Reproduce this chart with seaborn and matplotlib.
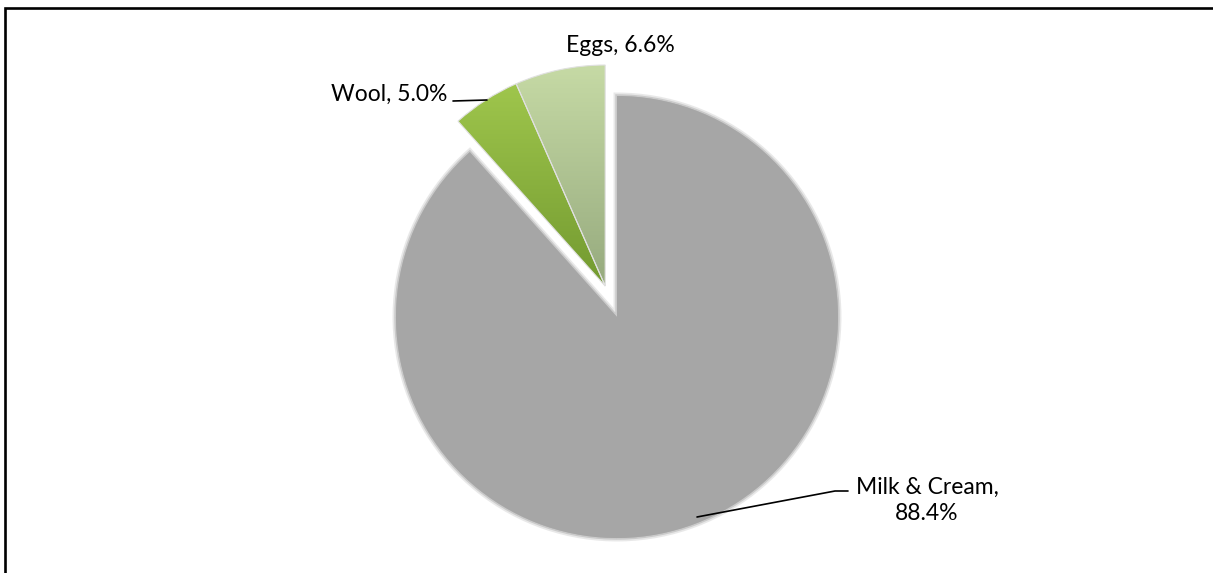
import numpy as np
import matplotlib
matplotlib.use("Agg")
import matplotlib.pyplot as plt
import matplotlib.patheffects as pe
import seaborn as sns
from matplotlib.patches import Rectangle
from matplotlib.colors import LinearSegmentedColormap

# ---- data (counter-clockwise from 12 o'clock) ----
categories = ["Eggs", "Wool", "Milk & Cream"]
shares = [6.6, 5.0, 88.4]

sns.set_theme(style="white")
plt.rcParams["font.family"] = ["Lato", "DejaVu Sans"]

W, H, DPI = 1213, 573, 100
fig = plt.figure(figsize=(W / DPI, H / DPI), dpi=DPI)
ax = fig.add_axes([0, 0, 1, 1])
ax.set_axis_off()

# layout in pixels -> data units (radius = 1)
CX, CY, R = 617, 317, 221
def to_data(px, py):
    return ((px - CX) / R, (CY - py) / R)

ax.set_aspect("equal")

wedges, _ = ax.pie(shares, startangle=90, counterclock=True,
                   colors=["#C3D69B", "#9BBB59", "#A6A6A6"],
                   wedgeprops=dict(linewidth=0), radius=1.0)

# soft edge on the big slice
wedges[2].set_path_effects([
    pe.Stroke(linewidth=5, foreground="#A6A6A6", alpha=0.25),
    pe.Stroke(linewidth=2.5, foreground="#A6A6A6", alpha=0.45),
    pe.Normal()])

# explode the two small slices together along their common mid-angle
total = sum(shares)
grp = shares[0] + shares[1]
theta = np.deg2rad(90 + grp / total * 360 / 2)
off = 0.15
gc = (off * np.cos(theta), off * np.sin(theta))
grad_cols = {
    0: ["#96AA7E", "#C6DAA5"],   # Eggs: dark bottom -> light top
    1: ["#739A30", "#A3CA4F"],   # Wool
}
for i in (0, 1):
    w = wedges[i]
    w.set_center(gc)
    w.set_facecolor("none")
    w.set_edgecolor("#E0E0E0")
    w.set_linewidth(0.8)
    cmap = LinearSegmentedColormap.from_list(f"g{i}", grad_cols[i])
    grad = np.linspace(0, 1, 256).reshape(-1, 1)
    im = ax.imshow(grad, cmap=cmap, origin="lower", aspect="auto",
                   extent=(gc[0] - 1, gc[0] + 1, gc[1], gc[1] + 1), zorder=1)
    im.set_clip_path(w)
    w.set_zorder(2)

ax.set_xlim(-CX / R, (W - CX) / R)
ax.set_ylim(-(H - CY) / R, CY / R)

labels = [f"{c}, {s:.1f}%" for c, s in zip(categories, shares)]
fs = 16.5
# Eggs label
ax.text(*to_data(620, 45), labels[0], ha="center", va="center", fontsize=fs, color="#000000")
# Wool label with leader
ax.text(*to_data(447, 94), labels[1], ha="right", va="center", fontsize=fs, color="#000000")
ax.plot(*zip(to_data(453, 101), to_data(487, 100)), color="black", lw=1.2)
# Milk label with leader
ax.text(*to_data(927, 500), f"{categories[2]},\n{shares[2]:.1f}%", ha="center", va="center",
        fontsize=fs, color="#000000", multialignment="center", linespacing=1.3)
ax.plot(*zip(to_data(697, 517), to_data(835, 491), to_data(848, 491)), color="black", lw=1.2)

# chart frame (extends past right/bottom edges)
fig.add_artist(Rectangle((5 / W, -0.05), 1.1, 1 - 7.5 / H + 0.05, transform=fig.transFigure,
                         fill=False, edgecolor="black", linewidth=1.9))

fig.savefig("out.png", dpi=DPI)
